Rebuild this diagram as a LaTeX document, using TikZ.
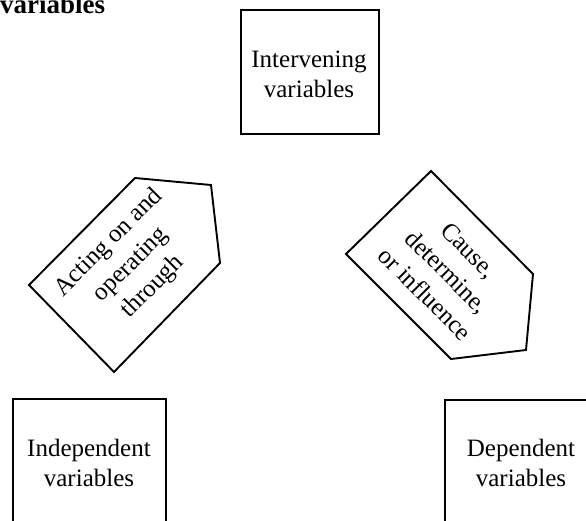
\documentclass[tikz,border=0pt]{standalone}
\usepackage{fontspec}
\setmainfont{Liberation Serif}
\begin{document}
\begin{tikzpicture}[x=1pt,y=-1pt,
  lbl/.style={font=\fontsize{25}{30}\selectfont, align=center, inner sep=0pt},
  boxline/.style={draw, line width=1.9pt},
  tagshape/.style={draw, line width=1.9pt, line join=miter},
  taglbl/.style={font=\fontsize{25}{31}\selectfont, align=center, inner sep=0pt}]
\clip (0,0) rectangle (586,521);
\node[anchor=base west, inner sep=0pt, font=\bfseries\fontsize{27}{30}\selectfont] (head) at (0,14) {variables};
% boxes
\draw[boxline] (241,10) rectangle (379,134);
\node[lbl] (interv) at (309,74) {Intervening\\variables};
\draw[boxline] (13,399) rectangle (166,540);
\node[lbl] (indep) at (89,463) {Independent\\variables};
\draw[boxline] (445,400) rectangle (598,540);
\node[lbl] (dep) at (521,463) {Dependent\\variables};
% left tag
\draw[tagshape] (135,178) -- (211,185) -- (220,263) -- (114,372) -- (29,285) -- cycle;
\node[taglbl, rotate=45] (acting) at (131,265) {Acting on and\\operating\\through};
% right tag
\draw[tagshape] (431,171) -- (533,274) -- (526,350) -- (451,359) -- (346,254) -- cycle;
\node[taglbl, rotate=-45] (cause) at (447,272) {Cause,\\determine,\\or influence};
\end{tikzpicture}
\end{document}
